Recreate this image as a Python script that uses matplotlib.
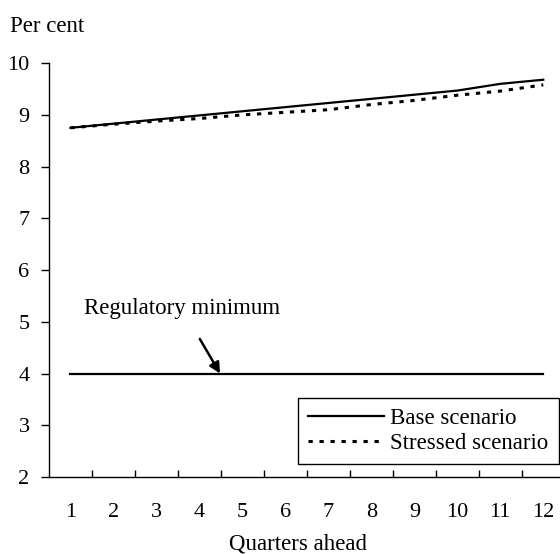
import matplotlib.pyplot as plt

# Data
quarters = list(range(1, 13))
quarter_labels = [str(q) for q in quarters]
base = [8.75, 8.83, 8.91, 8.99, 9.07, 9.15, 9.23, 9.31, 9.39, 9.47, 9.60, 9.68]
stressed = [8.75, 8.82, 8.88, 8.93, 9.00, 9.05, 9.10, 9.20, 9.28, 9.38, 9.46, 9.58]
reg_min = [4.0] * 12
y_ticks = [2, 3, 4, 5, 6, 7, 8, 9, 10]

plt.rcParams['font.family'] = ['Liberation Serif', 'DejaVu Serif']
fs_tick = 16
fs = 16.5

fig = plt.figure(figsize=(5.6, 5.54), dpi=100)
ax = fig.add_axes([0.0875, 0.139, 0.921, 0.747])

ax.plot(quarters, base, color='black', linewidth=1.6, label='Base scenario')
ax.plot(quarters, stressed, color='black', linewidth=2.2, linestyle=(0, (1.4, 2.2)),
        label='Stressed scenario')
ax.plot(quarters, reg_min, color='black', linewidth=1.6)

ax.set_xlim(0.5, 12.5)
ax.set_ylim(2, 10)
ax.set_yticks(y_ticks)
ax.set_yticklabels([str(v) for v in y_ticks], fontsize=fs_tick)
ax.set_xticks(quarters)
ax.set_xticklabels(quarter_labels, fontsize=fs_tick)
ax.set_xticks([q + 0.5 for q in quarters[:-1]], minor=True)
ax.tick_params(axis='x', which='major', length=0, pad=19)
ax.tick_params(axis='x', which='minor', direction='in', length=5, width=1)
ax.tick_params(axis='y', direction='out', length=6, width=1, pad=8)

for side in ['top', 'right']:
    ax.spines[side].set_visible(False)
for side in ['left', 'bottom']:
    ax.spines[side].set_linewidth(1)

ax.annotate('Regulatory minimum', xy=(4.48, 4.0), xytext=(3.6, 5.25),
            fontsize=fs, ha='center', va='center',
            arrowprops=dict(arrowstyle='-|>', color='black', lw=1.8,
                            shrinkA=14, shrinkB=0, mutation_scale=16))

leg = ax.legend(loc='lower right', bbox_to_anchor=(559 / 560, (554 - 464) / 554),
                bbox_transform=fig.transFigure, fontsize=fs,
                frameon=True, fancybox=False, edgecolor='black', handlelength=3.3,
                handletextpad=0.3, borderpad=0.45, labelspacing=0.15,
                borderaxespad=0)
leg.get_frame().set_linewidth(1)
leg.get_frame().set_alpha(1)

fig.text(10 / 560, 1 - 27 / 554, 'Per cent', fontsize=fs, ha='left', va='center')
fig.text(298 / 560, 1 - 544 / 554, 'Quarters ahead', fontsize=fs, ha='center', va='center')

plt.savefig('out.png', dpi=100)
plt.close()
